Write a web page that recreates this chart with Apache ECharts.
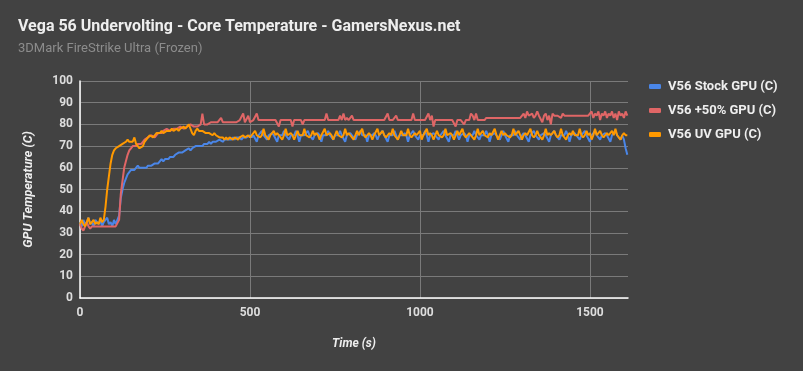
<!DOCTYPE html>
<html>
<head>
<meta charset="utf-8">
<script src="https://cdn.jsdelivr.net/npm/echarts@6/dist/echarts.min.js"></script>
<style>html,body{margin:0;padding:0;background:#424242;}#c{width:803px;height:371px;}</style>
</head>
<body>
<div id="c"></div>
<script>
// sample times: every 5 s from 0 to 1610
const timeStep = 5;
const seriesNames = ['V56 Stock GPU (C)', 'V56 +50% GPU (C)', 'V56 UV GPU (C)'];
const xTicks = [0, 500, 1000, 1500];

const stockGPU = [
  35,33,36,34,35,37,34,35,33,36,
  35,34,36,33,35,35,37,34,35,33,
  36,34,34,38,46,50,53,55,57,58,
  59,59,59,59,61,60,60,60,60,60,
  61,61,61,61,62,62,62,62,64,63,
  64,64,64,65,65,65,66,66,67,67,
  67,67,68,68,69,68,69,69,70,70,
  70,70,70,71,71,71,72,71,72,72,
  72,72,73,73,72,73,73,73,73,73,
  74,73,74,74,74,73,74,74,74,74,
  75,74,
  75,75,72,75,75,77,75,75,73,75,
  75,76,75,75,72,75,75,75,77,75,
  75,73,75,75,75,77,75,72,75,75,
  75,75,77,75,75,73,75,75,76,75,
  72,75,75,75,77,75,75,73,75,75,
  75,77,75,75,72,75,75,76,75,75,
  73,75,75,77,75,75,75,72,75,75,
  75,76,75,73,75,75,77,75,75,72,
  75,75,75,77,75,73,75,75,75,76,
  75,72,75,75,77,75,75,73,75,75,
  75,77,75,72,75,75,76,75,75,73,
  75,75,77,75,75,72,75,75,75,77,
  75,73,75,75,76,75,72,75,75,75,
  77,75,75,73,75,75,75,77,75,72,
  75,75,76,75,75,73,75,77,75,75,
  72,75,75,75,77,75,75,73,75,76,
  75,75,72,75,75,77,75,75,73,75,
  75,76,75,75,72,75,75,77,75,75,
  73,75,75,75,77,75,72,75,75,76,
  75,75,73,75,75,77,75,75,72,75,
  75,77,75,75,73,75,75,76,75,75,
  72,75,75,77,75,75,73,
  75,73,69,66
];

const plus50GPU = [
  34,32,31,33,35,33,32,33,33,33,
  33,33,33,33,33,33,33,33,33,33,
  33,33,33,36,48,54,60,63,66,68,
  69,70,70,70,71,71,71,72,73,73,
  74,74,75,75,74,75,76,76,76,77,
  77,78,78,77,77,78,78,78,78,79,
  79,78,78,79,79,80,80,79,79,79,
  79,80,85,80,80,80,80,81,81,81,
  81,81,81,83,81,81,81,81,81,81,
  81,81,81,81,82,82,85,81,81,84,
  81,81,
  82,82,85,82,82,82,82,82,82,82,
  82,82,82,82,82,79,82,82,82,82,
  82,82,82,79,82,82,82,82,82,80,
  82,82,82,82,82,82,82,82,82,82,
  82,82,82,85,82,82,82,82,82,82,
  82,84,82,85,82,83,82,82,84,82,
  82,82,82,82,82,82,82,82,82,82,
  82,82,82,82,82,82,82,82,82,85,
  82,82,82,82,84,82,82,82,82,82,
  82,82,82,82,85,82,82,82,82,82,
  82,82,82,85,82,84,79,82,82,82,
  82,82,82,82,82,82,82,82,82,79,
  82,82,82,82,80,82,82,82,85,84,
  82,85,82,82,82,82,82,83,83,83,
  83,83,83,83,83,83,83,83,83,83,
  83,83,83,83,83,83,83,83,83,85,
  83,86,84,84,85,83,84,86,84,84,
  81,84,85,82,84,80,85,84,84,84,
  84,83,85,84,84,84,84,84,84,84,
  84,84,84,84,84,84,84,84,84,86,
  83,85,84,86,82,85,84,86,83,85,
  84,86,83,85,82,86,84,85,83,86,
  84
];

const uvGPU = [
  34,36,34,33,35,37,34,35,36,34,
  35,34,37,35,36,42,50,56,62,66,
  68,69,69,70,70,71,71,72,73,72,
  72,72,74,71,70,69,69,70,72,73,
  74,75,75,74,75,76,76,76,77,76,
  76,77,77,77,78,77,77,78,77,78,
  78,79,78,78,80,78,76,75,77,78,
  77,77,77,77,76,76,76,76,75,76,
  75,75,74,74,74,73,74,73,74,74,
  73,74,74,73,74,74,75,74,74,75,
  74,75,
  75,77,75,75,74,75,78,75,75,73,
  75,75,77,75,76,75,75,73,75,78,
  75,75,76,75,73,75,77,75,75,75,
  78,75,75,74,75,77,75,76,75,73,
  75,75,78,75,75,76,75,73,75,77,
  75,75,74,75,78,75,76,75,75,73,
  75,77,75,75,78,75,74,75,76,75,
  73,75,75,78,75,75,77,75,74,75,
  76,75,78,75,75,73,75,77,75,75,
  75,78,75,74,75,76,75,75,77,73,
  75,75,78,75,76,75,73,75,77,75,
  75,74,75,78,75,75,76,75,73,75,
  77,75,75,78,75,74,75,76,75,75,
  73,75,78,75,75,77,75,75,74,76,
  75,75,78,75,73,75,77,75,76,75,
  75,74,75,78,75,75,77,75,73,75,
  76,75,75,78,75,74,75,77,75,75,
  73,75,78,75,76,75,75,77,75,74,
  75,78,75,75,73,75,76,75,77,75,
  75,75,78,75,74,75,77,75,76,73,
  75,78,75,75,77,75,74,75,76,75,
  75,77,75,78,75,75,73,75,76,75,
  75
];

function pairs(arr) { return arr.map((v, i) => [i * timeStep, v]); }

const chart = echarts.init(document.getElementById('c'), null, {renderer: 'canvas'});
const font = 'Roboto';
chart.setOption({
  backgroundColor: '#424242',
  animation: false,
  textStyle: {fontFamily: font},
  title: {
    text: 'Vega 56 Undervolting - Core Temperature - GamersNexus.net',
    subtext: '3DMark FireStrike Ultra (Frozen)',
    left: 13, top: 14,
    itemGap: 7,
    textStyle: {color: '#eeeeee', fontSize: 16, fontWeight: 'bold', fontFamily: font},
    subtextStyle: {color: '#8c8c8c', fontSize: 13, fontFamily: font}
  },
  legend: {
    orient: 'vertical',
    left: 644, top: 75,
    itemWidth: 12, itemHeight: 5,
    itemGap: 11,
    icon: 'roundRect',
    textStyle: {color: '#eeeeee', fontSize: 13, fontWeight: 'bold', fontFamily: font, padding: [0,0,0,2]},
    data: seriesNames
  },
  grid: {left: 80, right: 175, top: 81, bottom: 73, containLabel: false},
  xAxis: {
    type: 'value', min: 0, max: 1612, interval: 500,
    name: 'Time (s)', nameLocation: 'middle', nameGap: 40,
    nameTextStyle: {color: '#eeeeee', fontSize: 12, fontWeight: 'bold', fontStyle: 'italic', fontFamily: font},
    axisLine: {lineStyle: {color: '#ffffff', width: 1.5}},
    axisTick: {show: false},
    axisLabel: {color: '#dddddd', fontSize: 12, fontWeight: 'bold', margin: 9, showMaxLabel: false, fontFamily: font,
      formatter: v => xTicks.includes(v) ? String(v) : ''},
    splitLine: {show: true, showMaxLine: false, lineStyle: {color: '#7a7a7a', width: 1}}
  },
  yAxis: {
    type: 'value', min: 0, max: 100, interval: 10,
    name: 'GPU Temperature (C)', nameLocation: 'middle', nameGap: 45,
    nameTextStyle: {color: '#eeeeee', fontSize: 12.5, fontWeight: 'bold', fontStyle: 'italic', fontFamily: font},
    axisLine: {show: true, lineStyle: {color: '#ffffff', width: 1.5}},
    axisTick: {show: false},
    axisLabel: {color: '#dddddd', fontSize: 12, fontWeight: 'bold', margin: 7, fontFamily: font},
    splitLine: {show: true, lineStyle: {color: '#7a7a7a', width: 1}}
  },
  series: [
    {name: seriesNames[0], type: 'line', data: pairs(stockGPU), showSymbol: false, symbol: 'none',
     lineStyle: {width: 2, color: '#4a86e8'}, itemStyle: {color: '#4a86e8'}},
    {name: seriesNames[1], type: 'line', data: pairs(plus50GPU), showSymbol: false, symbol: 'none',
     lineStyle: {width: 2, color: '#e06666'}, itemStyle: {color: '#e06666'}},
    {name: seriesNames[2], type: 'line', data: pairs(uvGPU), showSymbol: false, symbol: 'none',
     lineStyle: {width: 2, color: '#ff9900'}, itemStyle: {color: '#ff9900'}}
  ]
});
</script>
</body>
</html>
